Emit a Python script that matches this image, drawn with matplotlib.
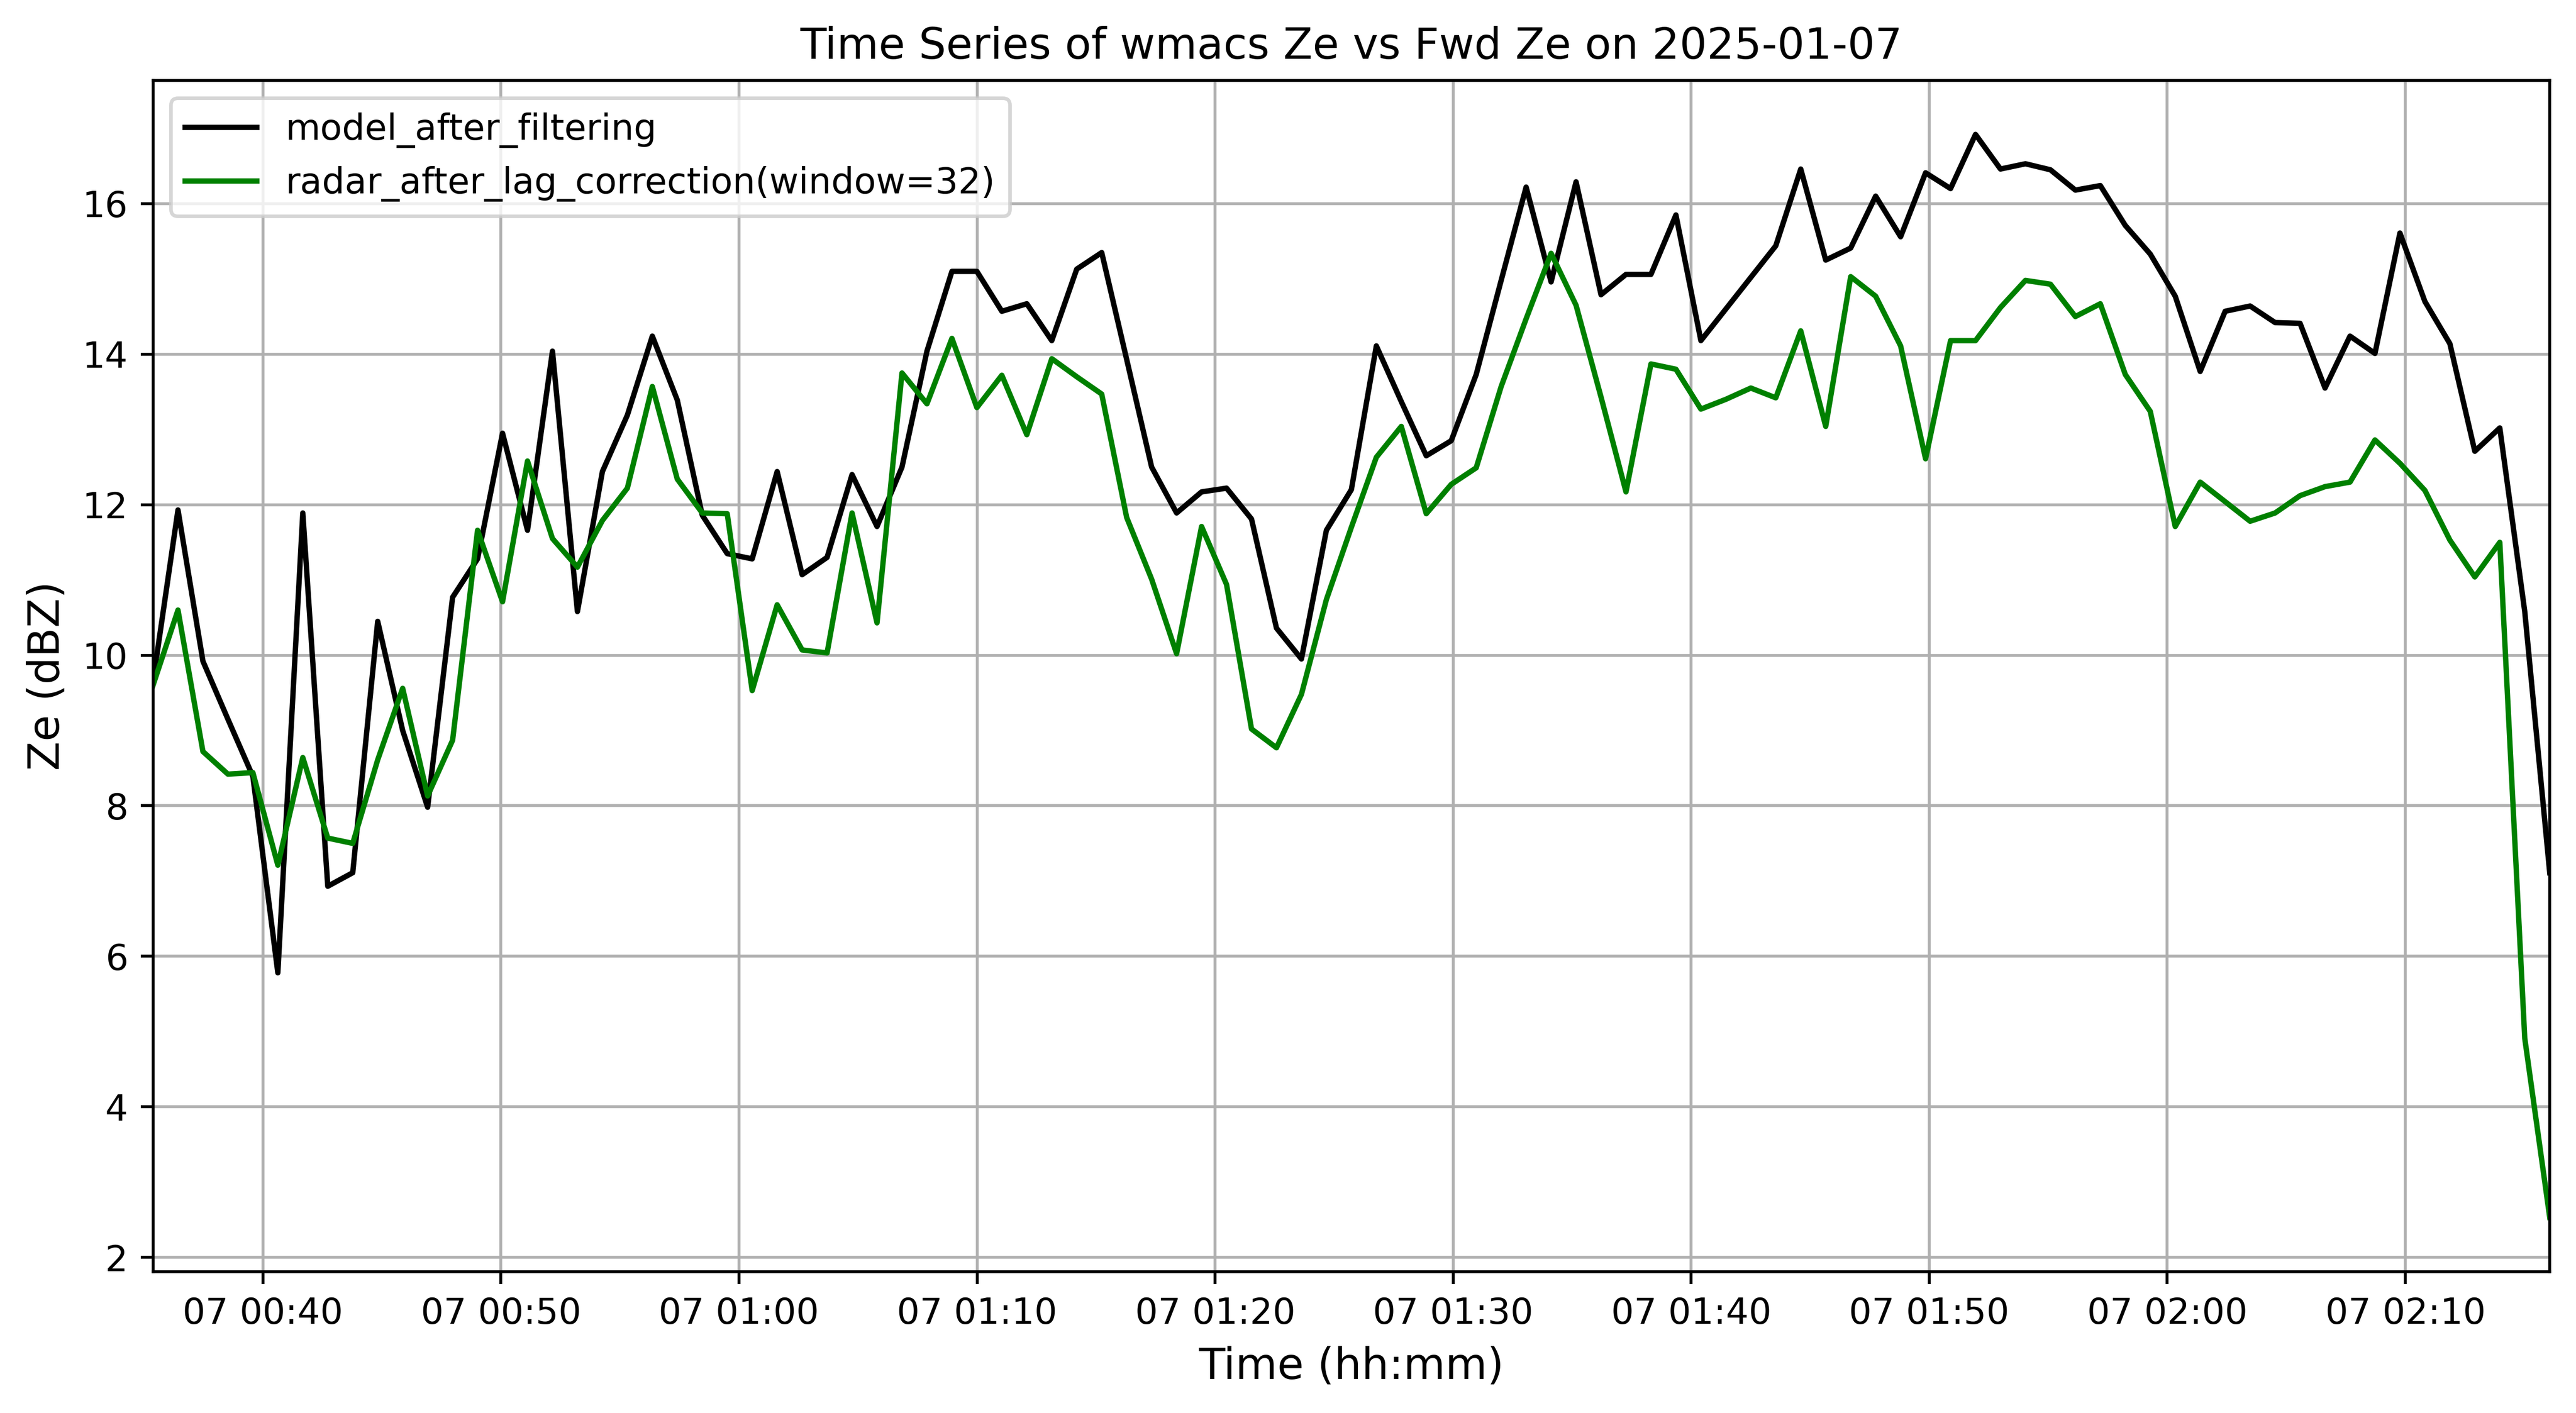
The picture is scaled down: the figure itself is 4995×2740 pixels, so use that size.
import numpy as np
import pandas as pd
import matplotlib
matplotlib.use("Agg")
import matplotlib.pyplot as plt
import matplotlib.dates as mdates

# sample times (roughly one sample per ~63 s)
t_start = "2025-01-07 00:35:23"
t_end = "2025-01-07 02:16:04"
n_samples = 97

model_ze = [9.65, 11.93, 9.92, 9.15, 8.39, 5.78, 11.89, 6.93, 7.11, 10.45,
            9.0, 7.98, 10.77, 11.28, 12.95, 11.66, 14.04, 10.58, 12.44, 13.19,
            14.24, 13.39, 11.86, 11.35, 11.28, 12.44, 11.07, 11.30, 12.40, 11.71,
            12.50, 14.04, 15.10, 15.10, 14.57, 14.67, 14.18, 15.13, 15.35, 13.93,
            12.50, 11.89, 12.17, 12.22, 11.81, 10.36, 9.95, 11.66, 12.20, 14.11,
            13.37, 12.65, 12.85, 13.73, 14.98, 16.22, 14.96, 16.29, 14.79, 15.06,
            15.06, 15.85, 14.18, 14.60, 15.02, 15.44, 16.46, 15.25, 15.41, 16.10,
            15.56, 16.41, 16.20, 16.92, 16.46, 16.53, 16.45, 16.18, 16.24, 15.71,
            15.33, 14.77, 13.77, 14.57, 14.64, 14.42, 14.41, 13.55, 14.24, 14.01,
            15.61, 14.70, 14.14, 12.71, 13.02, 10.58, 7.11]

radar_ze = [9.6, 10.60, 8.72, 8.42, 8.44, 7.21, 8.64, 7.57, 7.50, 8.61,
            9.56, 8.13, 8.87, 11.66, 10.71, 12.58, 11.55, 11.17, 11.79, 12.22,
            13.57, 12.34, 11.89, 11.88, 9.53, 10.67, 10.07, 10.03, 11.89, 10.43,
            13.75, 13.34, 14.21, 13.29, 13.72, 12.93, 13.94, 13.70, 13.47, 11.83,
            11.01, 10.02, 11.71, 10.94, 9.02, 8.77, 9.48, 10.74, 11.70, 12.63,
            13.04, 11.88, 12.27, 12.49, 13.57, 14.47, 15.34, 14.65, 13.43, 12.17,
            13.87, 13.80, 13.27, 13.40, 13.55, 13.42, 14.31, 13.04, 15.03, 14.77,
            14.11, 12.61, 14.18, 14.18, 14.62, 14.98, 14.93, 14.50, 14.67, 13.73,
            13.24, 11.71, 12.30, 12.04, 11.78, 11.89, 12.12, 12.24, 12.30, 12.86,
            12.55, 12.19, 11.53, 11.04, 11.50, 4.91, 2.53]

times = pd.date_range(t_start, t_end, periods=n_samples)

fig, ax = plt.subplots(figsize=(9.99, 5.48))
ax.plot(times, model_ze, color="black", label="model_after_filtering")
ax.plot(times, radar_ze, color="green", label="radar_after_lag_correction(window=32)")

ax.set_xlim(times[0], times[-1])
ax.xaxis.set_major_locator(mdates.MinuteLocator(byminute=range(0, 60, 10)))
ax.xaxis.set_major_formatter(mdates.DateFormatter("%d %H:%M"))

ax.set_title("Time Series of wmacs Ze vs Fwd Ze on 2025-01-07", fontsize=12)
ax.set_xlabel("Time (hh:mm)", fontsize=12)
ax.set_ylabel("Ze (dBZ)", fontsize=12)
ax.grid(True)
ax.legend(loc="upper left")

fig.subplots_adjust(left=0.0594, right=0.9898, top=0.9432, bottom=0.1001)
fig.savefig("out.png", dpi=500)
